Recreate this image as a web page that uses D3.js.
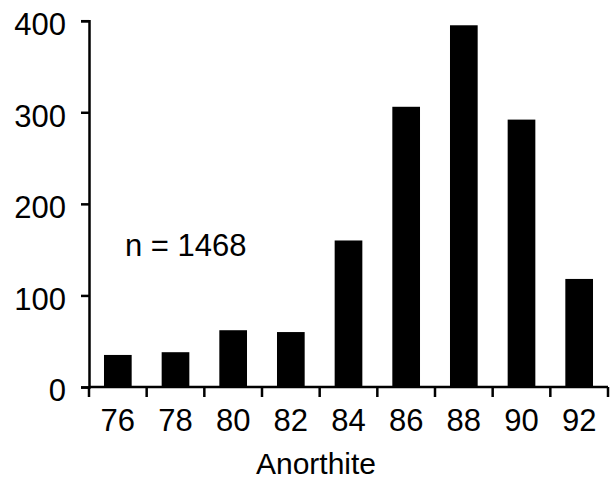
<!DOCTYPE html>
<html>
<head>
<meta charset="utf-8">
<title>Anorthite histogram</title>
<script src="https://d3js.org/d3.v7.min.js"></script>
<style>
body { margin: 0; background: #fff; }
text { font-family: "Liberation Sans", Arial, sans-serif; fill: #000; }
</style>
</head>
<body>
<script>
// data
var bins = ["76", "78", "80", "82", "84", "86", "88", "90", "92"];
var counts = [35, 38, 62, 60, 160, 306, 395, 292, 118];
var yTicks = [0, 100, 200, 300, 400];
var note = "n = 1468";
var xTitle = "Anorthite";

var w = 611, h = 480;
var mLeft = 89, mRight = 608, mTop = 20.7, mBottom = 387;

var svg = d3.select("body").append("svg")
    .attr("width", w)
    .attr("height", h);

var x = d3.scaleBand()
    .domain(bins)
    .range([mLeft, mRight])
    .paddingInner(0.52)
    .paddingOuter(0.26);

var y = d3.scaleLinear()
    .domain([0, 400])
    .range([mBottom, mTop]);

// bars
svg.selectAll("rect.bar")
    .data(counts)
    .enter()
    .append("rect")
    .attr("class", "bar")
    .attr("x", function(d, i) { return x(bins[i]); })
    .attr("y", function(d) { return y(d); })
    .attr("width", x.bandwidth())
    .attr("height", function(d) { return mBottom - y(d); })
    .attr("fill", "#000");

// y axis
var yAxis = svg.append("g")
    .attr("transform", "translate(" + mLeft + ",0)")
    .call(d3.axisLeft(y).tickValues(yTicks).tickSize(8).tickPadding(15));
yAxis.select(".domain").attr("stroke-width", 2.5);
yAxis.selectAll(".tick line").attr("stroke-width", 2.5);
yAxis.selectAll("text")
    .style("font-size", "31px")
    .style("font-family", "'Liberation Sans', Arial, sans-serif")
    .attr("dy", "0.45em");

// x axis: ticks at the bin edges, labels in the middle
var edges = d3.range(bins.length + 1).map(function(i) {
    return mLeft + i * x.step();
});
var xg = svg.append("g");
xg.append("line")
    .attr("x1", mLeft).attr("x2", mRight)
    .attr("y1", mBottom).attr("y2", mBottom)
    .attr("stroke", "#000").attr("stroke-width", 2.5);
xg.selectAll("line.tick")
    .data(edges)
    .enter()
    .append("line")
    .attr("class", "tick")
    .attr("x1", function(d) { return d; })
    .attr("x2", function(d) { return d; })
    .attr("y1", mBottom).attr("y2", mBottom + 10)
    .attr("stroke", "#000").attr("stroke-width", 2.5);
xg.selectAll("text")
    .data(bins)
    .enter()
    .append("text")
    .attr("x", function(d) { return x(d) + x.bandwidth() / 2; })
    .attr("y", 431)
    .attr("text-anchor", "middle")
    .style("font-size", "31px")
    .text(function(d) { return d; });

// axis title and note
svg.append("text")
    .attr("x", 316)
    .attr("y", 474)
    .attr("text-anchor", "middle")
    .style("font-size", "30px")
    .text(xTitle);

svg.append("text")
    .attr("x", 125)
    .attr("y", 256)
    .style("font-size", "31px")
    .text(note);
</script>
</body>
</html>
